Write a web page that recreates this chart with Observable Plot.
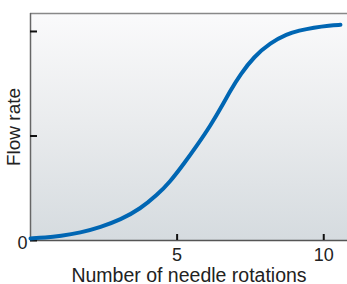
<!DOCTYPE html>
<html>
<head>
<meta charset="utf-8">
<script src="https://cdn.jsdelivr.net/npm/d3@7"></script>
<script src="https://cdn.jsdelivr.net/npm/@observablehq/plot@0.6"></script>
<style>
  html, body { margin: 0; padding: 0; background: white; }
</style>
</head>
<body>
<div id="chart"></div>
<script>
// Data
const rotations = [0, 0.5, 1.02, 1.70, 2.39, 3.07, 3.75, 4.32, 4.75, 5.23, 5.68, 6.14, 6.54, 6.82, 7.16, 7.61, 8.18, 8.75, 9.15, 9.66, 10.2, 10.57];
const flowRate  = [1.0, 1.3, 2.1, 3.7, 6.4, 9.9, 15.2, 21.8, 27.9, 36.7, 45.5, 55.0, 64.6, 71.8, 79.5, 87.8, 94.6, 98.8, 100.4, 101.9, 102.9, 103.2];
const xTicks = [5, 10];
const yTicks = [0, 50, 100];
const yTickLabels = ["0", "", ""];
const xDomain = [0, 10.81];
const yDomain = [0, 108.6];

const data = rotations.map((x, i) => ({x, y: flowRate[i]}));

const bgDefs = () => {
  const defs = d3.create("svg:defs");
  const g = defs.append("linearGradient").attr("id", "bg")
    .attr("x1", 0).attr("y1", 0).attr("x2", 0).attr("y2", 1);
  g.append("stop").attr("offset", "0%").attr("stop-color", "#fafafb");
  g.append("stop").attr("offset", "50%").attr("stop-color", "#e9ebed");
  g.append("stop").attr("offset", "100%").attr("stop-color", "#d5dbdf");
  return defs.node();
};

const chart = Plot.plot({
  width: 347,
  height: 284,
  marginLeft: 30,
  marginRight: 0,
  marginTop: 13,
  marginBottom: 44,
  style: {fontFamily: "'Liberation Sans', Arial, sans-serif", fontSize: "18px", color: "#222", background: "white"},
  x: {domain: xDomain},
  y: {domain: yDomain},
  marks: [
    bgDefs,
    Plot.frame({fill: "url(#bg)", stroke: null}),
    Plot.ruleY([yDomain[1]], {stroke: "#888", strokeWidth: 1.5}),
    Plot.ruleX([0], {stroke: "#666", strokeWidth: 1.5}),
    Plot.ruleY([0], {stroke: "#555", strokeWidth: 1.5}),
    Plot.axisX({ticks: xTicks, tickSize: -6, tickFormat: () => "", label: null, strokeWidth: 2, stroke: "#111"}),
    Plot.axisX({ticks: xTicks, tickSize: 0, tickPadding: 8, label: null}),
    Plot.axisX({ticks: xTicks, tickSize: 0, tickFormat: () => "", fontSize: 19.5, label: "Number of needle rotations", labelAnchor: "center", labelArrow: "none", labelOffset: 41}),
    Plot.axisY({ticks: yTicks, tickSize: -7, tickFormat: () => "", label: null, strokeWidth: 2, stroke: "#111"}),
    Plot.axisY({ticks: yTicks, tickSize: 0, tickPadding: 3, dy: 3, tickFormat: (d, i) => yTickLabels[i], label: null}),
    Plot.axisY({ticks: yTicks, tickSize: 0, tickFormat: () => "", fontSize: 19, label: "Flow rate", labelAnchor: "center", labelArrow: "none", labelOffset: 24}),
    Plot.line(data, {x: "x", y: "y", curve: "basis", stroke: "#0066b3", strokeWidth: 4, strokeLinecap: "round"})
  ]
});
document.getElementById("chart").appendChild(chart);
</script>
</body>
</html>
